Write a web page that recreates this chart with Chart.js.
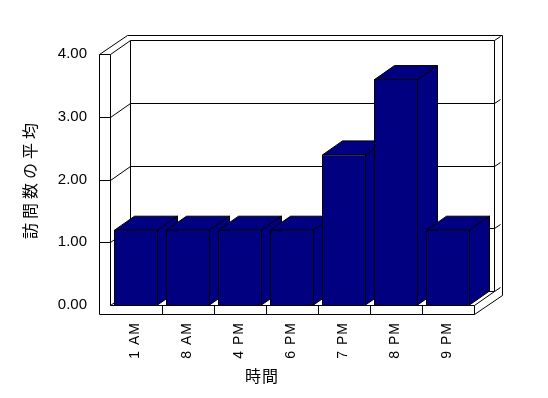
<!DOCTYPE html>
<html lang="ja">
<head>
<meta charset="UTF-8">
<title>訪問数の平均</title>
<script src="https://cdn.jsdelivr.net/npm/chart.js"></script>
<style>
  html, body { margin: 0; padding: 0; background: #fff; }
  canvas { display: block; }
</style>
</head>
<body>
<canvas id="myChart" width="548" height="398"></canvas>
<script>
    // data
    const labels = ['1 AM', '8 AM', '4 PM', '6 PM', '7 PM', '8 PM', '9 PM'];
    const visits = [1.2, 1.2, 1.2, 1.2, 2.4, 3.6, 1.2];
    const yTicks = [0, 1, 2, 3, 4];
    const xTitle = '時間';
    const yTitle = '訪問数の平均';

    // 3D look
    const DX = 20, DY = -14;      // depth of the plot box
    const DX2 = 28, DY2 = -19;    // outer edge of the back wall
    const WALL = 11, FLOOR = 9;   // thickness of left wall / floor

    function line(ctx, x1, y1, x2, y2) {
        ctx.beginPath();
        ctx.moveTo(x1, y1);
        ctx.lineTo(x2, y2);
        ctx.stroke();
    }

    function poly(ctx, pts, fill) {
        ctx.beginPath();
        ctx.moveTo(pts[0][0], pts[0][1]);
        for (let i = 1; i < pts.length; i++) ctx.lineTo(pts[i][0], pts[i][1]);
        ctx.closePath();
        ctx.fillStyle = fill;
        ctx.fill();
        ctx.stroke();
    }

    const frame3d = {
        id: 'frame3d',
        beforeDatasetsDraw(chart) {
            const ctx = chart.ctx;
            const a = chart.chartArea;
            const ys = chart.scales.y, xs = chart.scales.x;
            const L = a.left + 0.5, R = a.right + 0.5, T = a.top + 0.5, B = a.bottom + 0.5;
            const W = L - WALL, F = B + FLOOR;
            ctx.save();
            ctx.strokeStyle = '#000';
            ctx.lineWidth = 1;

            // grid lines: back wall, left wall, right edge
            yTicks.forEach(v => {
                const y = Math.round(ys.getPixelForValue(v)) + 0.5;
                line(ctx, L + DX, y + DY, R + DX, y + DY);
                line(ctx, L, y, L + DX, y + DY);
                if (v > 0) line(ctx, W, y, L, y);
                line(ctx, R + DX, y + DY, R + DX2 - 2, y + DY2 + 1);
            });

            // walls
            line(ctx, W, T, W, F);
            line(ctx, L, T, L, B);
            line(ctx, W, T, W + DX2, T + DY2);
            line(ctx, W + DX2, T + DY2, R + DX2, T + DY2);
            line(ctx, R + DX2, T + DY2, R + DX2, F + DY2);
            line(ctx, L + DX, T + DY, L + DX, B + DY);
            line(ctx, R + DX, T + DY, R + DX, B + DY);

            // floor
            line(ctx, L, B, R, B);
            line(ctx, W, F, R, F);
            line(ctx, R, B, R, F);
            line(ctx, R, B, R + DX, B + DY);
            line(ctx, R, F, R + DX2, F + DY2);
            const half = (xs.getPixelForValue(1) - xs.getPixelForValue(0)) / 2;
            for (let i = 1; i < labels.length; i++) {
                const bx = Math.round(xs.getPixelForValue(i) - half) + 0.5;
                line(ctx, bx, B, bx, F);
            }

            // top and side faces of the bars, left to right
            const meta = chart.getDatasetMeta(0);
            meta.data.forEach(bar => {
                const p = bar.getProps(['x', 'y', 'base', 'width'], true);
                const l = p.x - p.width / 2 + 0.5, r = p.x + p.width / 2 - 0.5;
                const t = p.y + 0.5, b = p.base;
                poly(ctx, [[l, t], [r, t], [r + DX, t + DY], [l + DX, t + DY]], '#000080');
                poly(ctx, [[r, t], [r + DX, t + DY], [r + DX, b + DY], [r, b]], '#000080');
            });
            ctx.restore();
        },
        afterDraw(chart) {
            const ctx = chart.ctx;
            const xs = chart.scales.x;
            ctx.save();
            ctx.fillStyle = '#000';

            // category labels, turned to read upwards
            ctx.font = '14px "Liberation Sans"';
            ctx.letterSpacing = '1px';
            ctx.textAlign = 'right';
            ctx.textBaseline = 'middle';
            labels.forEach((lab, i) => {
                ctx.save();
                ctx.translate(xs.getPixelForTick(i) - 1, chart.chartArea.bottom + 17);
                ctx.rotate(-Math.PI / 2);
                ctx.fillText(lab, 0, 0);
                ctx.restore();
            });

            ctx.textAlign = 'center';
            ctx.font = '16px "Noto Sans CJK JP"';
            ctx.letterSpacing = '1px';
            ctx.fillText(xTitle, 262, 376);

            ctx.letterSpacing = '4px';
            ctx.translate(30, 181);
            ctx.rotate(-Math.PI / 2);
            ctx.fillText(yTitle, 2, 0);
            ctx.restore();
        }
    };

    const data = {
        labels: labels,
        datasets: [{
            label: yTitle,
            data: visits,
            backgroundColor: '#000080',
            borderColor: '#000000',
            borderWidth: 1,
            categoryPercentage: 1,
            barPercentage: 44 / 52
        }]
    };

    const config = {
        type: 'bar',
        data: data,
        options: {
            responsive: false,
            animation: false,
            layout: { padding: { left: 0, top: 54, right: 74, bottom: 0 } },
            plugins: {
                legend: { display: false },
                tooltip: { enabled: false }
            },
            scales: {
                x: {
                    grid: { display: false, drawTicks: false },
                    border: { display: false },
                    ticks: { display: false },
                    afterFit(scale) { scale.height = 93; }
                },
                y: {
                    min: 0,
                    max: 4,
                    grid: { display: false, drawTicks: false },
                    border: { display: false },
                    ticks: {
                        color: '#000',
                        stepSize: 1,
                        padding: 23,
                        font: { family: 'Liberation Sans', size: 15 },
                        callback: v => v.toFixed(2)
                    },
                    afterFit(scale) { scale.width = 110; }
                }
            }
        },
        plugins: [frame3d]
    };

    const myChart = new Chart(document.getElementById('myChart'), config);
</script>
</body>
</html>
